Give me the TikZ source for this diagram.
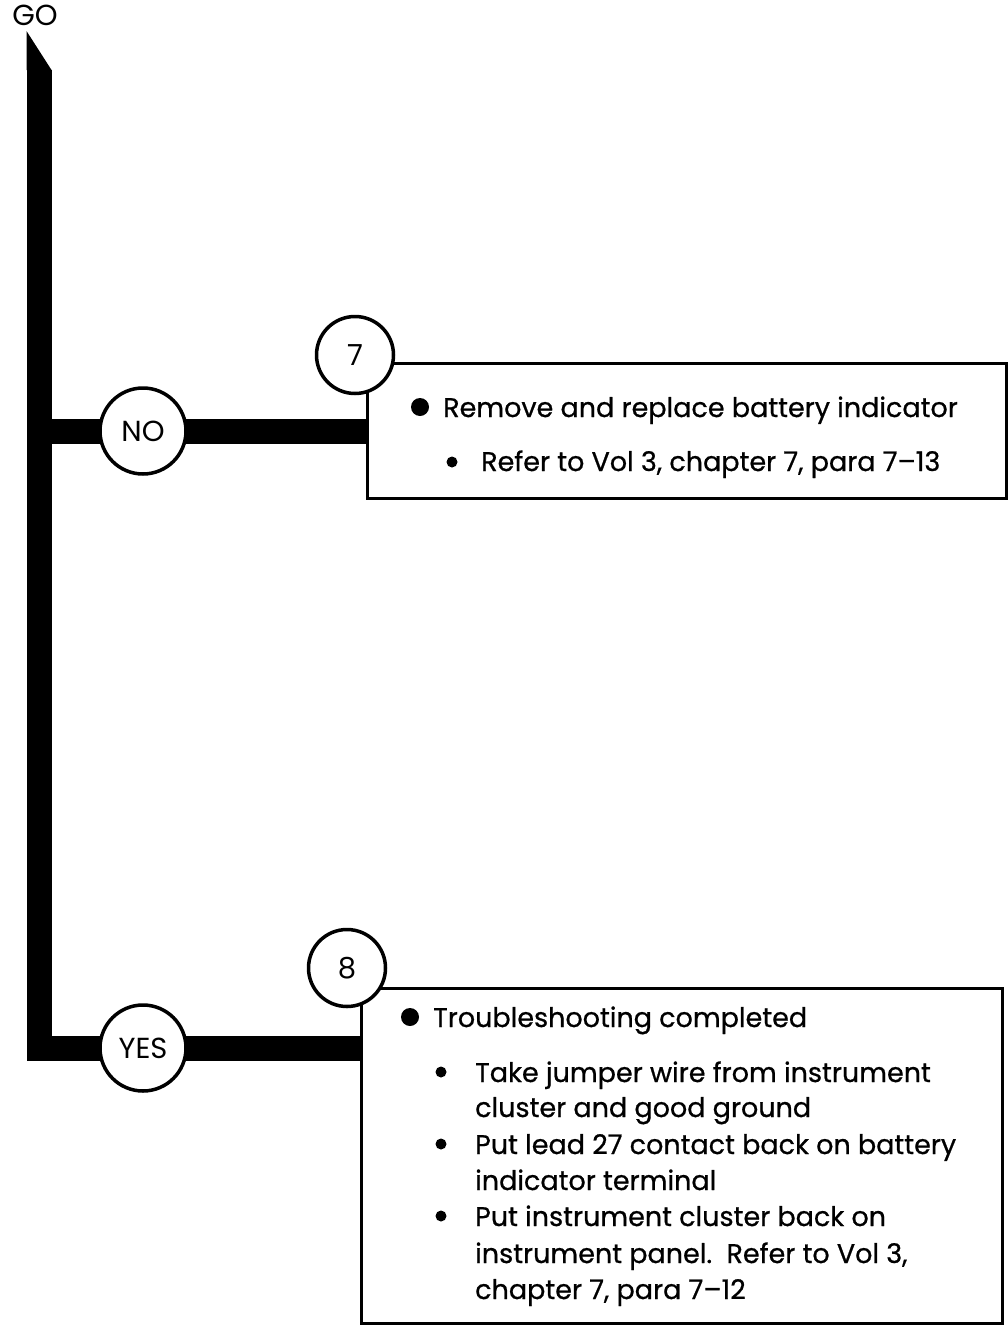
\documentclass[tikz,border=0pt]{standalone}
\usepackage{fontspec}
\setmainfont{Poppins}
\newfontfamily\boxfont{Poppins}[FakeBold=0.7]
\usetikzlibrary{backgrounds}
\begin{document}
\begin{tikzpicture}[x=1pt,y=-1pt,
  bar/.style={line width=25pt, line cap=butt, line join=miter},
  lbl/.style={circle, draw, line width=3.5pt, fill=white, minimum size=86pt, inner sep=0pt, font=\fontsize{29}{32}\selectfont},
  num/.style={circle, draw, line width=3.5pt, fill=white, minimum size=77pt, inner sep=0pt, font=\fontsize{29}{32}\selectfont},
  panel/.style={draw, line width=3pt, inner sep=0pt, anchor=north west},
  txt/.style={anchor=base west, inner sep=0pt, font=\boxfont\fontsize{27}{32}\selectfont},
  bigdot/.style={circle, fill, minimum size=18pt, inner sep=0pt},
  smalldot/.style={circle, fill, minimum size=11pt, inner sep=0pt},
]
\useasboundingbox (0,0) rectangle (1007,1325);

% boxes
\node[panel, minimum width=639pt, minimum height=135pt] (box7) at (366,362) {};
\node[panel, minimum width=641pt, minimum height=335pt] (box8) at (360,987) {};

% circles
\node[lbl] (no) at (143,431) {NO};
\node[lbl] (yes) at (143,1048) {YES};
\node[num] (n7) at (355,355) {7};
\node[num] (n8) at (347,968) {8};

% start label
\node[font=\fontsize{29}{32}\selectfont, inner sep=0pt] (go) at (35,15) {GO};

% trunk and branches
\coordinate (tipA) at (26.5,31);
\coordinate (tipB) at (51.5,70);
\coordinate (tipC) at (26.5,70);
\coordinate (trunkTop) at (39,70);
\coordinate (corner) at (39,1048);
\begin{scope}[on background layer]
  \fill (tipA) -- (tipB) -- (tipC) -- cycle;
  \draw[bar] (trunkTop) -- (corner) -- (yes.center) -- (box8.west |- yes.center);
  \draw[bar] (corner |- no.center) -- (no.center) -- (box7.west |- no.center);
\end{scope}

% box 7 text
\node[bigdot] (b7a) at (420,407) {};
\node[txt] (t7a) at (443,417) {Remove and replace battery indicator};
\node[smalldot] (b7b) at (452,462) {};
\node[txt] (t7b) at (481,471) {Refer to Vol 3, chapter 7, para 7–13};

% box 8 text
\node[bigdot] (b8a) at (410,1017) {};
\node[txt] (t8a) at (433,1027) {Troubleshooting completed};
\node[smalldot] (b8b) at (441,1072) {};
\node[txt] (t8b) at (475,1082) {Take jumper wire from instrument};
\node[txt] (t8c) at (475,1117) {cluster and good ground};
\node[smalldot] (b8d) at (441,1144) {};
\node[txt] (t8d) at (475,1154) {Put lead 27 contact back on battery};
\node[txt] (t8e) at (475,1190) {indicator terminal};
\node[smalldot] (b8f) at (441,1216) {};
\node[txt] (t8f) at (475,1226) {Put instrument cluster back on};
\node[txt] (t8g) at (475,1263) {instrument panel.\ \ Refer to Vol 3,};
\node[txt] (t8h) at (475,1299) {chapter 7, para 7–12};
\end{tikzpicture}
\end{document}
